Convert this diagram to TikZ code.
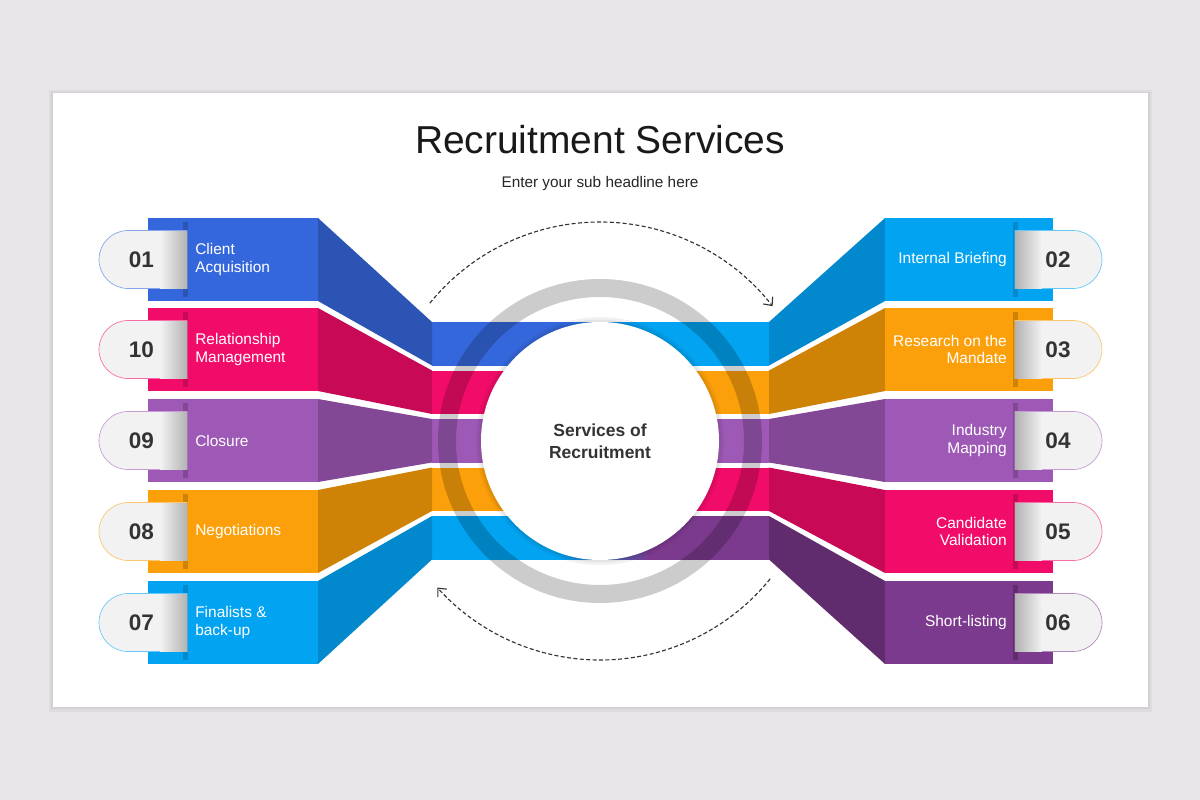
\documentclass[tikz,border=0pt]{standalone}
\usepackage{fontspec}
\setmainfont{Liberation Sans}
\usetikzlibrary{arrows.meta}

\definecolor{pagegrey}{HTML}{E8E6E8}
\definecolor{pillgrey}{HTML}{F2F2F2}
\definecolor{txtdark}{HTML}{333333}
\definecolor{cBlue}{HTML}{3567DC}
\definecolor{cBlueD}{HTML}{2B54B4}
\definecolor{cPink}{HTML}{F20C69}
\definecolor{cPinkD}{HTML}{C80A56}
\definecolor{cPurple}{HTML}{9E59B6}
\definecolor{cPurpleD}{HTML}{824896}
\definecolor{cOrange}{HTML}{FBA00A}
\definecolor{cOrangeD}{HTML}{CE8206}
\definecolor{cCyan}{HTML}{02A3F1}
\definecolor{cCyanD}{HTML}{0288CC}
\definecolor{cPlum}{HTML}{7C3A8E}
\definecolor{cPlumD}{HTML}{602C6E}

\begin{document}
\begin{tikzpicture}[x=0.75pt,y=0.75pt,yscale=-1,xscale=1,
    bandtext/.style={text=white,font=\fontsize{11.6}{13.3}\selectfont,inner sep=0pt},
    numtext/.style={text=txtdark,font=\fontsize{16.9}{18}\selectfont\bfseries,inner sep=0pt},
    pillline/.style={line width=0.5pt,fill=pillgrey},
    flow/.style={draw=black!80,line width=0.85pt,dash pattern=on 3pt off 1.8pt,-{Straight Barb[length=5pt,width=9pt,line width=0.85pt]}}]
        \useasboundingbox (0,0) rectangle (1200,800);
        \coordinate (ctr) at (600,441);

        %Background and slide
        \fill[pagegrey] (0,0) rectangle (1200,800);
        \fill[black,opacity=0.04] (49,90) rectangle (1152,712);
        \fill[black,opacity=0.05] (51,92) rectangle (1150,709);
        \fill[white] (53,93) rectangle (1148,707);

        %Title
        \node[anchor=base,text=black!90,font=\fontsize{29.2}{32}\selectfont] (title) at (600,153) {Recruitment Services};
        \node[anchor=base,text=black!85,font=\fontsize{11.5}{13}\selectfont] (subtitle) at (600,187) {Enter your sub headline here};

        %Middle bands
        \fill[cBlue] (432,322) rectangle (560.5,365.5);
        \shade[left color=cBlue,right color=cCyan] (560,322) rectangle (640,365.5);
        \fill[cCyan] (639.5,322) rectangle (769,365.5);
        \fill[cPink] (432,370.5) rectangle (600.5,414);
        \fill[cOrange] (600,370.5) rectangle (769,414);
        \fill[cPurple] (432,419) rectangle (769,462.5);
        \fill[cOrange] (432,467.5) rectangle (600.5,511);
        \fill[cPink] (600,467.5) rectangle (769,511);
        \fill[cCyan] (432,516) rectangle (560.5,559.5);
        \shade[left color=cCyan,right color=cPlum] (560,516) rectangle (650,559.5);
        \fill[cPlum] (649.5,516) rectangle (769,559.5);

        %Shape: Left sides
        \fill[cBlueD] (318,218) -- (432,322) -- (432,365.5) -- (318,301) -- cycle;
        \fill[cPinkD] (318,308) -- (432,370.5) -- (432,414) -- (318,391) -- cycle;
        \fill[cPurpleD] (318,399) -- (432,419) -- (432,462.5) -- (318,482) -- cycle;
        \fill[cOrangeD] (318,490) -- (432,467.5) -- (432,511) -- (318,573) -- cycle;
        \fill[cCyanD] (318,581) -- (432,516) -- (432,559.5) -- (318,664) -- cycle;

        %Shape: Right sides
        \fill[cCyanD] (885,218) -- (769,322) -- (769,365.5) -- (885,301) -- cycle;
        \fill[cOrangeD] (885,308) -- (769,370.5) -- (769,414) -- (885,391) -- cycle;
        \fill[cPurpleD] (885,399) -- (769,419) -- (769,462.5) -- (885,482) -- cycle;
        \fill[cPinkD] (885,490) -- (769,467.5) -- (769,511) -- (885,573) -- cycle;
        \fill[cPlumD] (885,581) -- (769,516) -- (769,559.5) -- (885,664) -- cycle;

        %Shape: Left fronts
        \fill[cBlue] (148,218) rectangle (318,301);
        \fill[cPink] (148,308) rectangle (318,391);
        \fill[cPurple] (148,399) rectangle (318,482);
        \fill[cOrange] (148,490) rectangle (318,573);
        \fill[cCyan] (148,581) rectangle (318,664);
        \fill[cBlueD] (183,222) rectangle (188,297);
        \fill[cPinkD] (183,312) rectangle (188,387);
        \fill[cPurpleD] (183,403) rectangle (188,478);
        \fill[cOrangeD] (183,494) rectangle (188,569);
        \fill[cCyanD] (183,585) rectangle (188,660);

        %Shape: Right fronts
        \fill[cCyan] (885,218) rectangle (1053,301);
        \fill[cOrange] (885,308) rectangle (1053,391);
        \fill[cPurple] (885,399) rectangle (1053,482);
        \fill[cPink] (885,490) rectangle (1053,573);
        \fill[cPlum] (885,581) rectangle (1053,664);
        \fill[cCyanD] (1013,222) rectangle (1018,297);
        \fill[cOrangeD] (1013,312) rectangle (1018,387);
        \fill[cPurpleD] (1013,403) rectangle (1018,478);
        \fill[cPinkD] (1013,494) rectangle (1018,569);
        \fill[cPlumD] (1013,585) rectangle (1018,660);

        %Shape: Left tabs
        \draw[pillline,draw=cBlue!60] (187,230.5) -- (128,230.5) arc[start angle=-90,end angle=-270,radius=29] -- (187,288.5) -- cycle;
        \draw[pillline,draw=cPink!60] (187,320.5) -- (128,320.5) arc[start angle=-90,end angle=-270,radius=29] -- (187,378.5) -- cycle;
        \draw[pillline,draw=cPurple!60] (187,411.5) -- (128,411.5) arc[start angle=-90,end angle=-270,radius=29] -- (187,469.5) -- cycle;
        \draw[pillline,draw=cOrange!60] (187,502.5) -- (128,502.5) arc[start angle=-90,end angle=-270,radius=29] -- (187,560.5) -- cycle;
        \draw[pillline,draw=cCyan!60] (187,593.5) -- (128,593.5) arc[start angle=-90,end angle=-270,radius=29] -- (187,651.5) -- cycle;
        \shade[left color=pillgrey,right color=black!30] (160,231) rectangle (187,288);
        \shade[left color=pillgrey,right color=black!30] (160,321) rectangle (187,378);
        \shade[left color=pillgrey,right color=black!30] (160,412) rectangle (187,469);
        \shade[left color=pillgrey,right color=black!30] (160,503) rectangle (187,560);
        \shade[left color=pillgrey,right color=black!30] (160,594) rectangle (187,651);

        %Shape: Right tabs
        \draw[pillline,draw=cCyan!60] (1015,230.5) -- (1073,230.5) arc[start angle=-90,end angle=90,radius=29] -- (1015,288.5) -- cycle;
        \draw[pillline,draw=cOrange!60] (1015,320.5) -- (1073,320.5) arc[start angle=-90,end angle=90,radius=29] -- (1015,378.5) -- cycle;
        \draw[pillline,draw=cPurple!60] (1015,411.5) -- (1073,411.5) arc[start angle=-90,end angle=90,radius=29] -- (1015,469.5) -- cycle;
        \draw[pillline,draw=cPink!60] (1015,502.5) -- (1073,502.5) arc[start angle=-90,end angle=90,radius=29] -- (1015,560.5) -- cycle;
        \draw[pillline,draw=cPlum!60] (1015,593.5) -- (1073,593.5) arc[start angle=-90,end angle=90,radius=29] -- (1015,651.5) -- cycle;
        \shade[left color=black!30,right color=pillgrey] (1015,231) rectangle (1042,288);
        \shade[left color=black!30,right color=pillgrey] (1015,321) rectangle (1042,378);
        \shade[left color=black!30,right color=pillgrey] (1015,412) rectangle (1042,469);
        \shade[left color=black!30,right color=pillgrey] (1015,503) rectangle (1042,560);
        \shade[left color=black!30,right color=pillgrey] (1015,594) rectangle (1042,651);

        %Numbers
        \node[numtext] (n01) at (141.5,259.5) {01};
        \node[numtext] (n10) at (141.5,349.5) {10};
        \node[numtext] (n09) at (141.5,440.5) {09};
        \node[numtext] (n08) at (141.5,531.5) {08};
        \node[numtext] (n07) at (141.5,622.5) {07};
        \node[numtext] (n02) at (1058,259.5) {02};
        \node[numtext] (n03) at (1058,349.5) {03};
        \node[numtext] (n04) at (1058,440.5) {04};
        \node[numtext] (n05) at (1058,531.5) {05};
        \node[numtext] (n06) at (1058,622.5) {06};

        %Labels
        \node[bandtext,anchor=west,align=left] (t01) at (195,259.5) {Client\\Acquisition};
        \node[bandtext,anchor=west,align=left] (t10) at (195,349.5) {Relationship\\Management};
        \node[bandtext,anchor=west,align=left] (t09) at (195,440.5) {Closure};
        \node[bandtext,anchor=west,align=left] (t08) at (195,531.5) {Negotiations};
        \node[bandtext,anchor=west,align=left] (t07) at (195,622.5) {Finalists \&\\back-up};
        \node[bandtext,anchor=east,align=right] (t02) at (1007,259.5) {Internal Briefing};
        \node[bandtext,anchor=east,align=right] (t03) at (1007,349.5) {Research on the\\Mandate};
        \node[bandtext,anchor=east,align=right] (t04) at (1007,440.5) {Industry\\Mapping};
        \node[bandtext,anchor=east,align=right] (t05) at (1007,531.5) {Candidate\\Validation};
        \node[bandtext,anchor=east,align=right] (t06) at (1007,622.5) {Short-listing};

        %Shape: Circle and ring
        \fill[black,opacity=0.05] (ctr) circle[radius=124];
        \fill[black,opacity=0.06] (ctr) circle[radius=121.5];
        \fill[white] (ctr) circle[radius=119];
        \fill[black,opacity=0.2,even odd rule] (ctr) circle[radius=162] (ctr) circle[radius=144];
        \node[text=txtdark,align=center,font=\fontsize{13.1}{16.3}\selectfont\bfseries] (core) at (ctr) {Services of\\Recruitment};

        %Dashed arcs
        \draw[flow] (ctr) ++(-141:219) arc[start angle=-141,end angle=-38,radius=219];
        \draw[flow] (ctr) ++(39:219) arc[start angle=39,end angle=138,radius=219];
\end{tikzpicture}
\end{document}
